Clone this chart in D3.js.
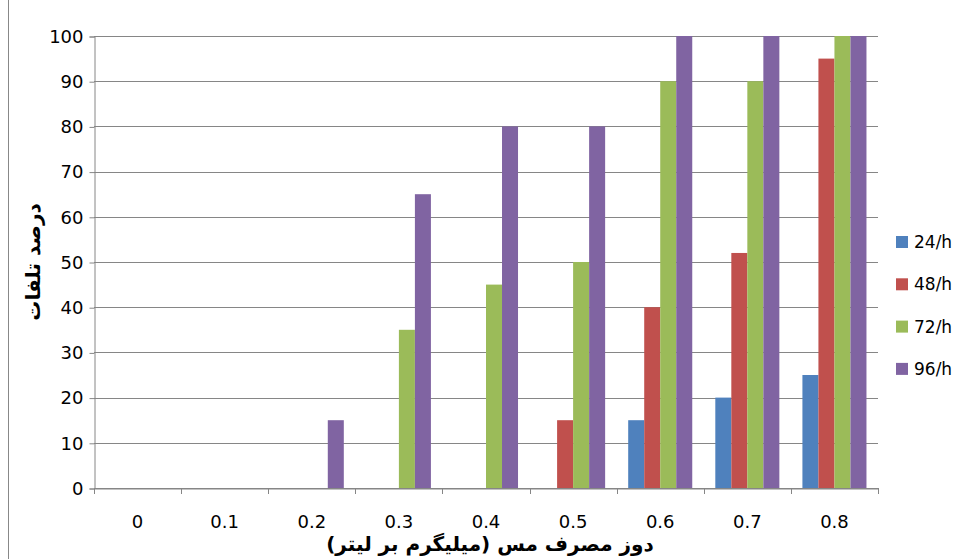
<!DOCTYPE html>
<html><head><meta charset="utf-8">
<script src="https://cdn.jsdelivr.net/npm/d3@7"></script>
<style>body{margin:0;background:#fff}</style>
</head><body>
<svg width="962" height="559"></svg>
<script>
var categories = ["0","0.1","0.2","0.3","0.4","0.5","0.6","0.7","0.8"];
var seriesNames = ["24/h","48/h","72/h","96/h"];
var s24 = [0,0,0,0,0,0,15,20,25];
var s48 = [0,0,0,0,0,15,40,52,95];
var s72 = [0,0,0,35,45,50,90,90,100];
var s96 = [0,0,15,65,80,80,100,100,100];
var yTicks = [0,10,20,30,40,50,60,70,80,90,100];
var colors = ["#4f81bd","#c0504d","#9bbb59","#8064a2"];
var allSeries = [s24,s48,s72,s96];

var svg = d3.select("svg");
var pLeft = 94, pRight = 878, pTop = 36, pBottom = 488;
var x = d3.scaleBand().domain(categories).range([pLeft, pRight]);
var xi = d3.scaleBand().domain(seriesNames).range([0, x.bandwidth()]).paddingInner(0).paddingOuter(0.72);
var y = d3.scaleLinear().domain([0,100]).range([pBottom, pTop]);

svg.append("line").attr("x1",8.5).attr("x2",8.5).attr("y1",0).attr("y2",559).attr("stroke","#888");

svg.append("g").selectAll("line").data(yTicks).enter().append("line")
  .attr("x1",pLeft).attr("x2",pRight)
  .attr("y1",function(d){return Math.round(y(d))+0.5;})
  .attr("y2",function(d){return Math.round(y(d))+0.5;})
  .attr("stroke","#868686");

allSeries.forEach(function(vals, si){
  svg.append("g").attr("fill",colors[si]).selectAll("rect").data(vals).enter().append("rect")
    .attr("x",function(d,i){return x(categories[i]) + xi(seriesNames[si]);})
    .attr("width",xi.bandwidth())
    .attr("y",function(d){return y(d);})
    .attr("height",function(d){return pBottom - y(d);});
});

var yAxis = svg.append("g").attr("transform","translate("+(pLeft+0.5)+",0.5)")
  .call(d3.axisLeft(y).tickValues(yTicks).tickSize(5).tickPadding(6));
var xAxis = svg.append("g").attr("transform","translate(0,"+(pBottom+0.5)+")")
  .call(d3.axisBottom(x).tickSize(0).tickPadding(34));
[yAxis, xAxis].forEach(function(a){
  a.select(".domain").attr("stroke","#868686");
  a.selectAll(".tick line").attr("stroke","#868686");
  a.selectAll("text").attr("font-family","Verdana, DejaVu Sans, sans-serif").attr("font-size",18).attr("fill","#000");
});
xAxis.selectAll(".tick text").attr("dy","0.32em");
svg.append("g").selectAll("line").data(categories.concat(["end"])).enter().append("line")
  .attr("x1",function(d,i){return Math.round(pLeft + i*x.bandwidth())+0.5;})
  .attr("x2",function(d,i){return Math.round(pLeft + i*x.bandwidth())+0.5;})
  .attr("y1",pBottom).attr("y2",pBottom+6).attr("stroke","#868686");

svg.append("text").attr("transform","translate(40,262) rotate(-90)")
  .attr("text-anchor","middle").attr("font-family","DejaVu Sans, sans-serif")
  .attr("font-weight","bold").attr("font-size",20).attr("direction","rtl").text("درصد تلفات");
svg.append("text").attr("x",490).attr("y",551)
  .attr("text-anchor","middle").attr("font-family","DejaVu Sans, sans-serif")
  .attr("font-weight","bold").attr("font-size",20).attr("direction","rtl").text("دوز مصرف مس (میلیگرم بر لیتر)");

var lg = svg.append("g").selectAll("g").data(seriesNames).enter().append("g")
  .attr("transform",function(d,i){return "translate(896,"+(242+i*42.3)+")";});
lg.append("rect").attr("x",0).attr("y",-6).attr("width",12).attr("height",12)
  .attr("fill",function(d,i){return colors[i];});
lg.append("text").attr("x",18).attr("dy","0.35em")
  .attr("font-family","Verdana, DejaVu Sans, sans-serif").attr("font-size",17).text(function(d){return d;});
</script>
</body></html>
